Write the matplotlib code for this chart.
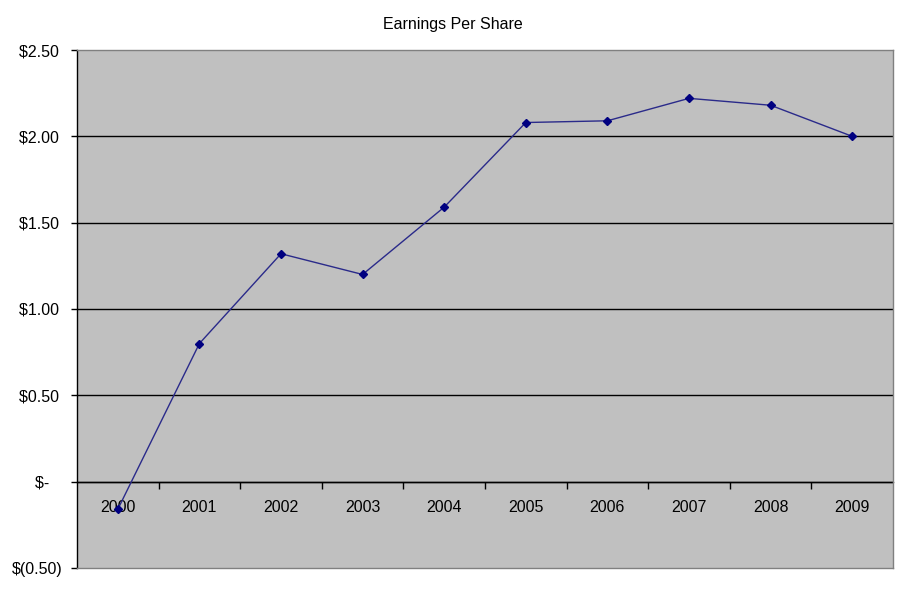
import numpy as np
import matplotlib
matplotlib.use('Agg')
import matplotlib.pyplot as plt

# Data
years = ['2000', '2001', '2002', '2003', '2004', '2005', '2006', '2007', '2008', '2009']
eps = [-0.16, 0.80, 1.32, 1.20, 1.59, 2.08, 2.09, 2.22, 2.18, 2.00]
y_ticks = [-0.5, 0.0, 0.5, 1.0, 1.5, 2.0, 2.5]
y_labels = ['$(0.50)', '$-   ', '$0.50 ', '$1.00 ', '$1.50 ', '$2.00 ', '$2.50 ']

plt.rcParams['font.family'] = ['Liberation Sans', 'DejaVu Sans']
plt.rcParams['font.size'] = 11.5

fig = plt.figure(figsize=(9.03, 6.15), dpi=100)
ax = fig.add_axes([77 / 903, 1 - 568 / 615, 816 / 903, 518 / 615])
ax.set_facecolor('#C0C0C0')

x = np.arange(len(years))
ax.set_xlim(-0.5, len(years) - 0.5)
ax.set_ylim(-0.5, 2.5)

# Horizontal gridlines
for yv in y_ticks[1:-1]:
    ax.axhline(yv, color='black', linewidth=1.0, zorder=1)

ax.plot(x, eps, color='#2a2a8a', linewidth=1.0, marker='D', markersize=4.5,
        markerfacecolor='#000080', markeredgecolor='#000080', zorder=3)

# Borders
for side in ['top', 'right', 'bottom']:
    ax.spines[side].set_color('#808080')
    ax.spines[side].set_linewidth(1.0)
ax.spines['left'].set_color('black')
ax.spines['left'].set_linewidth(1.0)

ax.set_yticks(y_ticks)
ax.set_yticklabels(y_labels)
ax.tick_params(axis='y', direction='out', length=4, width=1, pad=6, colors='black')
ax.set_xticks([])

# Category axis sitting on the zero line
zero_pos = (0 - (-0.5)) / 3.0
sec = ax.secondary_xaxis(zero_pos)
sec.spines['bottom'].set_color('black')
sec.spines['bottom'].set_linewidth(1.0)
sec.set_xticks(x[:-1] + 0.5)
sec.set_xticklabels([])
sec.set_xticks(x, minor=True)
sec.set_xticklabels(years, minor=True)
sec.tick_params(axis='x', which='major', direction='out', length=5, width=1)
sec.tick_params(axis='x', which='minor', length=0, pad=13)

fig.text(453 / 903, 1 - 24 / 615, 'Earnings Per Share', ha='center', va='center',
         fontsize=11.5)

fig.savefig('out.png', dpi=100, facecolor='white')
